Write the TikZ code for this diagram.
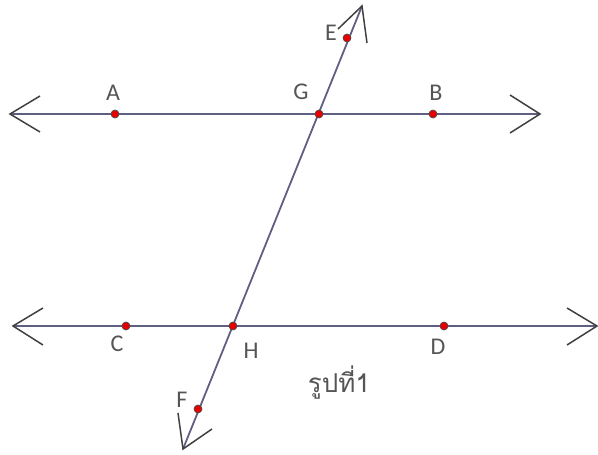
\documentclass[tikz,border=0pt]{standalone}
\usepackage{fontspec}
\setmainfont{Carlito}
\newfontfamily\thaifont[Script=Thai]{Loma}
\definecolor{linecol}{RGB}{95,95,130}
\definecolor{labcol}{RGB}{85,85,85}
\definecolor{ptred}{RGB}{230,0,0}
\begin{document}
\begin{tikzpicture}[x=1pt,y=-1pt,
  lineway/.style={draw=linecol,line width=1.8pt},
  chevron/.style={draw=black!75,line width=1.5pt,line join=miter},
  ptdot/.style={circle,fill=ptred,draw=black!70,line width=0.7pt,inner sep=0pt,minimum size=8pt},
  lab/.style={text=labcol,font=\fontsize{24}{26}\selectfont,inner sep=0pt}]
\useasboundingbox (0,0) rectangle (598,455);
% tips
\coordinate (L1) at (10,114);
\coordinate (R1) at (540,114);
\coordinate (L2) at (13,326);
\coordinate (R2) at (597,326);
\coordinate (T) at (362,6);
\coordinate (Bt) at (183,449);
% lines
\draw[lineway] (L1) -- (R1);
\draw[lineway] (L2) -- (R2);
\draw[lineway] (T) -- (Bt);
% arrow heads
\draw[chevron] (40,96) -- (L1) -- (40,132);
\draw[chevron] (510,95) -- (R1) -- (510,133);
\draw[chevron] (43,308) -- (L2) -- (43,345);
\draw[chevron] (567,308) -- (R2) -- (567,345);
\draw[chevron] (338,29) -- (T) -- (367,43);
\draw[chevron] (178,413) -- (Bt) -- (212,429);
% points
\node[ptdot] (A) at (115,114) {};
\node[ptdot] (G) at (319,114) {};
\node[ptdot] (B) at (433,114) {};
\node[ptdot] (C) at (126,326) {};
\node[ptdot] (H) at (233,326) {};
\node[ptdot] (D) at (444,326) {};
\node[ptdot] (E) at (347,38) {};
\node[ptdot] (F) at (198,409) {};
% labels
\node[lab] (lA) at (113,93) {A};
\node[lab] (lG) at (301,92) {G};
\node[lab] (lB) at (436,93) {B};
\node[lab] (lC) at (117,344) {C};
\node[lab] (lH) at (251,351) {H};
\node[lab] (lD) at (438,347) {D};
\node[lab] (lE) at (331,33) {E};
\node[lab] (lF) at (182,400) {F};
\node[text=labcol,inner sep=0pt,font=\thaifont\fontsize{26}{28}\selectfont] (cap) at (339,383) {รูปที่1};
\end{tikzpicture}
\end{document}
